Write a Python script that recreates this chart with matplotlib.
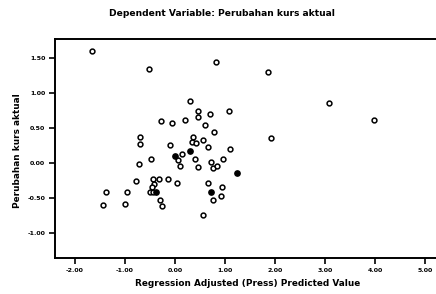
import matplotlib
matplotlib.use("Agg")
import matplotlib.pyplot as plt

# Data
x_open = [-1.66, -0.52, 0.82, 1.86, 3.08, 3.98, 1.92, 0.30, 1.07, 0.46, 0.69, 0.45,
          -0.28, -0.06, 0.19, 0.59, 0.78, -0.70, -0.70, -0.10, 0.35, 0.33, 0.41, 0.56,
          0.65, 1.09, 0.05, 0.13, 0.10, 0.40, 0.45, 0.71, 0.75, 0.83, 0.96, -0.73,
          -0.49, -0.79, -0.45, -0.33, -0.43, -0.15, 0.03, -0.51, -0.45, -0.46, -0.31,
          -0.26, -1.39, -0.97, -1.45, -1.01, 0.65, 0.75, 0.91, 0.93, 0.55]
y_open = [1.60, 1.34, 1.44, 1.30, 0.86, 0.61, 0.36, 0.89, 0.74, 0.74, 0.70, 0.65,
          0.60, 0.57, 0.61, 0.54, 0.44, 0.37, 0.27, 0.25, 0.37, 0.30, 0.29, 0.33,
          0.23, 0.20, 0.04, 0.13, -0.05, 0.06, -0.06, 0.02, -0.07, -0.05, 0.05, -0.01,
          0.06, -0.26, -0.23, -0.23, -0.30, -0.23, -0.29, -0.41, -0.41, -0.34, -0.53,
          -0.61, -0.42, -0.41, -0.60, -0.58, -0.29, -0.53, -0.47, -0.34, -0.74]
# overlapping points that appear solid
x_dense = [0.30, 0.00, 1.24, -0.39, 0.71]
y_dense = [0.17, 0.10, -0.15, -0.41, -0.41]

x_ticks = [-2, -1, 0, 1, 2, 3, 4, 5]
y_ticks = [-1.0, -0.5, 0.0, 0.5, 1.0, 1.5]

W, H = 436, 294
fig = plt.figure(figsize=(W / 100, H / 100), dpi=100)
fig.patch.set_facecolor("white")
left, right, top, bottom = 55, 436, 39, 258
ax = fig.add_axes([left / W, (H - bottom) / H, (right - left) / W, (bottom - top) / H])

ax.scatter(x_open, y_open, s=12, facecolors="white", edgecolors="black", linewidths=1.1, zorder=3)
ax.scatter(x_dense, y_dense, s=14, facecolors="black", edgecolors="black", linewidths=1.1, zorder=3)

ax.set_xlim(-2.40, 5.22)
ax.set_ylim(-1.357, 1.771)
ax.set_xticks(x_ticks)
ax.set_yticks(y_ticks)
ax.set_xticklabels([f"{v:.2f}" for v in x_ticks])
ax.set_yticklabels([f"{v:.2f}" for v in y_ticks])
ax.tick_params(axis="both", direction="out", length=4, width=1.2, labelsize=4.5, pad=3)
for lab in ax.get_xticklabels() + ax.get_yticklabels():
    lab.set_fontweight("bold")

ax.spines["right"].set_visible(False)
for s in ["left", "bottom", "top"]:
    ax.spines[s].set_linewidth(1.4)
    ax.spines[s].set_color("black")

fig.text(222 / W, 1 - 14 / H, "Dependent Variable: Perubahan kurs aktual",
         ha="center", va="center", fontsize=6.6, fontweight="bold")
fig.text(248 / W, 1 - 283 / H, "Regression Adjusted (Press) Predicted Value",
         ha="center", va="center", fontsize=6.4, fontweight="bold")
fig.text(17 / W, 1 - 151 / H, "Perubahan kurs aktual", rotation=90,
         ha="center", va="center", fontsize=6.4, fontweight="bold")

fig.savefig("out.png", dpi=100, facecolor="white")
